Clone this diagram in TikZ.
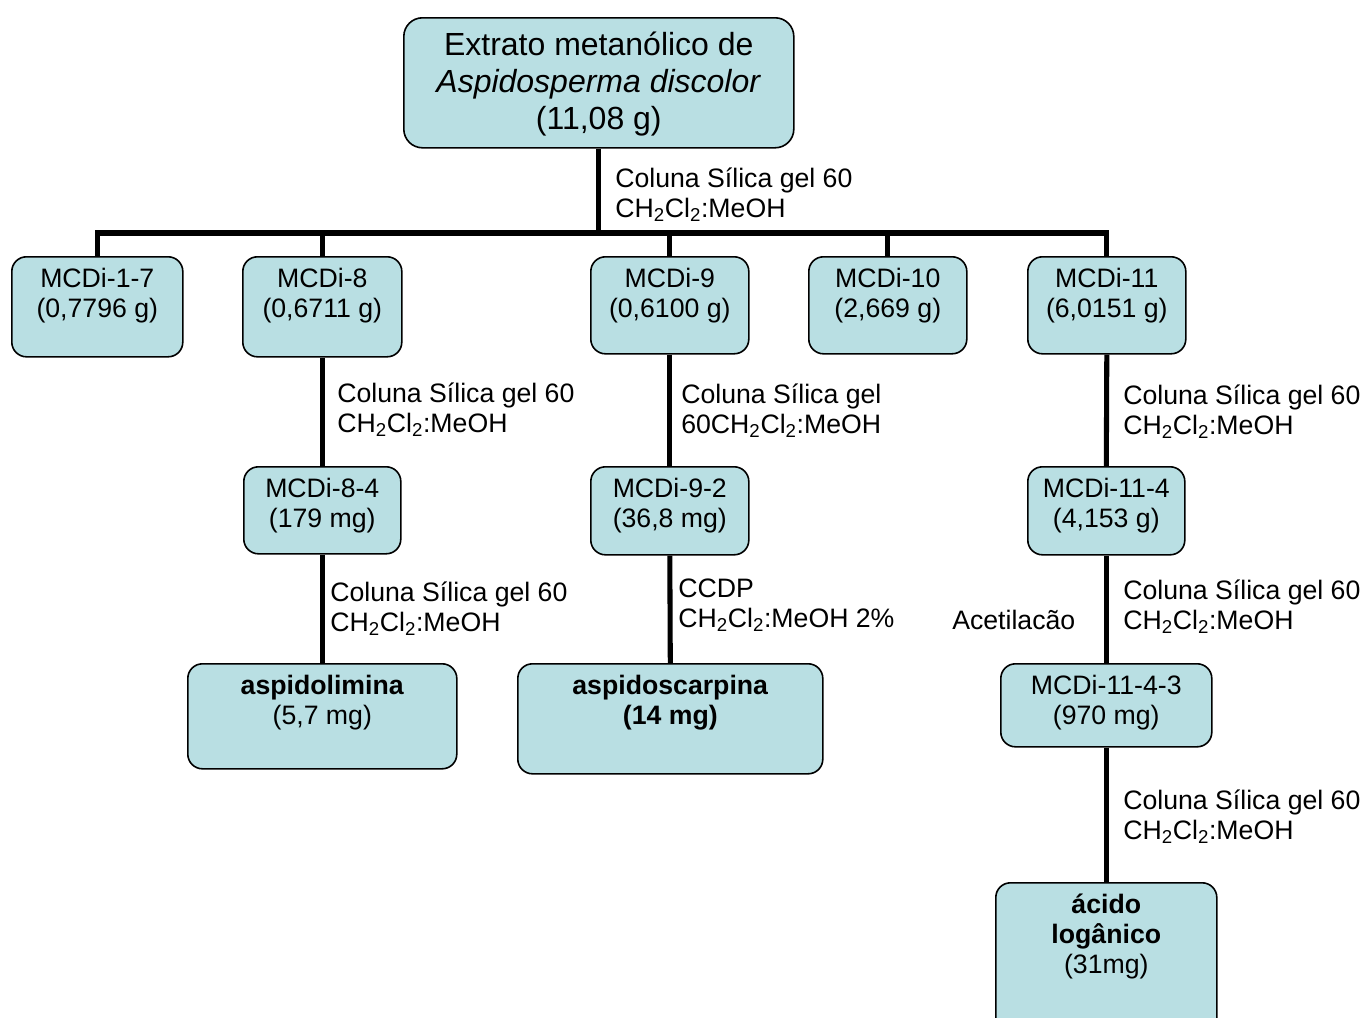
\documentclass[tikz,border=0pt]{standalone}
\usepackage{fontspec}
\setmainfont{Liberation Sans}

\definecolor{boxfill}{RGB}{185,223,227}
\newdimen\pxu
\pxu=0.75pt
\newcommand{\boxtxt}[4][31]{\parbox[c][#3\pxu][t]{#2\pxu}{\centering\rule{0pt}{#1\pxu}#4}}
\newcommand{\chcl}{CH\textsubscript{2}Cl\textsubscript{2}:MeOH}

\tikzset{
  frac/.style={draw, fill=boxfill, rounded corners=11pt, line width=1.2pt, inner sep=0pt, anchor=north west},
  link/.style={line width=3.8pt},
  note/.style={anchor=base west, inner sep=0pt, align=left}
}

\begin{document}
\begin{tikzpicture}[x=0.75pt, y=-0.75pt, font=\fontsize{20}{22.5}\selectfont]
\useasboundingbox (0,0) rectangle (1363,1017);
% caixas
\node[frac, rounded corners=14pt, font=\fontsize{24}{27.5}\selectfont] (ext) at (403,17)
  {\boxtxt[38]{390}{130}{Extrato metanólico de\\\textit{Aspidosperma discolor}\\(11,08 g)}};
\node[frac] (m17) at (11,256) {\boxtxt{171}{100}{MCDi-1-7\\(0,7796 g)}};
\node[frac] (m8) at (242,256) {\boxtxt{159}{100}{MCDi-8\\(0,6711 g)}};
\node[frac] (m9) at (590,256) {\boxtxt{158}{97}{MCDi-9\\(0,6100 g)}};
\node[frac] (m10) at (808,256) {\boxtxt{158}{97}{MCDi-10\\(2,669 g)}};
\node[frac] (m11) at (1027,256) {\boxtxt{158}{97}{MCDi-11\\(6,0151 g)}};
\node[frac] (m84) at (243,466) {\boxtxt{157}{87}{MCDi-8-4\\(179 mg)}};
\node[frac] (m92) at (590,466) {\boxtxt{158}{88}{MCDi-9-2\\(36,8 mg)}};
\node[frac] (m114) at (1027,466) {\boxtxt{157}{88}{MCDi-11-4\\(4,153 g)}};
\node[frac] (asl) at (187,663) {\boxtxt{269}{105}{\textbf{aspidolimina}\\(5,7 mg)}};
\node[frac] (asc) at (517,663) {\boxtxt{305}{110}{\textbf{aspidoscarpina}\\\textbf{(14 mg)}}};
\node[frac] (m1143) at (1000,663) {\boxtxt{211}{83}{MCDi-11-4-3\\(970 mg)}};
\node[frac] (acl) at (995,882) {\boxtxt{221}{150}{\textbf{ácido}\\\textbf{logânico}\\(31mg)}};

% ligacoes
\coordinate (bus) at (0,233);
\draw[link] (ext.south) -- (ext.south |- bus);
\draw[link] (m17.north) -- (m17.north |- bus) -- (m11.north |- bus) -- (m11.north);
\draw[link] (m8.north) -- (m8.north |- bus);
\draw[link] (m9.north) -- (m9.north |- bus);
\draw[link] (m10.north) -- (m10.north |- bus);
\draw[link] (m8.south) -- (m84.north);
\draw[link] (m84.south) -- (asl.north);
\draw[link] (m9.south) -- (m92.north);
\draw[link] (m92.south) -- (asc.north);
\draw[link] (m11.south) -- (m114.north);
\draw[link] (m114.south) -- (m1143.north);
\draw[link] (m1143.south) -- (acl.north);

% textos (base = ultima linha)
\node[note] (c0) at (615,217) {Coluna Sílica gel 60\\\chcl};
\node[note] (c8) at (337,432) {Coluna Sílica gel 60\\\chcl};
\node[note] (c9) at (681,433) {Coluna Sílica gel\\60\chcl};
\node[note] (c11) at (1123,434) {Coluna Sílica gel 60\\\chcl};
\node[note] (c84) at (330,631) {Coluna Sílica gel 60\\\chcl};
\node[note] (c92) at (678,627) {CCDP\\\chcl{} 2\%};
\node[note] (ac) at (952,629) {Acetilacão};
\node[note] (c114) at (1123,629) {Coluna Sílica gel 60\\\chcl};
\node[note] (c1143) at (1123,839) {Coluna Sílica gel 60\\\chcl};
\end{tikzpicture}
\end{document}
